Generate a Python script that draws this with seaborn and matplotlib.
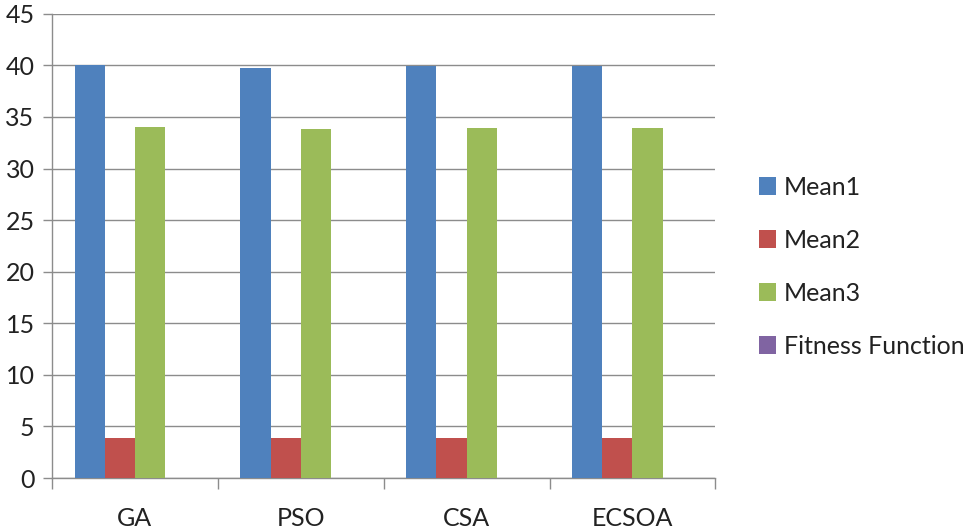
import matplotlib
matplotlib.use("Agg")
import matplotlib.pyplot as plt
import seaborn as sns
import pandas as pd
import numpy as np
from matplotlib.patches import Patch

categories = ["GA", "PSO", "CSA", "ECSOA"]
series_names = ["Mean1", "Mean2", "Mean3", "Fitness Function"]
mean1 = [40.0, 39.75, 39.95, 39.95]
mean2 = [3.9, 3.9, 3.9, 3.9]
mean3 = [34.0, 33.8, 33.9, 33.9]
fitness = [0.0, 0.0, 0.0, 0.0]
y_ticks = [0, 5, 10, 15, 20, 25, 30, 35, 40, 45]
colors = ["#4F81BD", "#C0504D", "#9BBB59", "#8064A2"]

df = pd.DataFrame({"Algorithm": categories, "Mean1": mean1, "Mean2": mean2,
                   "Mean3": mean3, "Fitness Function": fitness})
long = df.melt(id_vars="Algorithm", var_name="Series", value_name="Value")

sns.set_theme(style="white")
plt.rcParams["font.family"] = ["Lato", "DejaVu Sans"]

fig = plt.figure(figsize=(9.8, 5.3), dpi=100)
ax = fig.add_axes([0.053, 0.098, 0.677, 0.876])

sns.barplot(data=long, x="Algorithm", y="Value", hue="Series",
            order=categories, hue_order=series_names, palette=colors,
            width=4 / 5.5, gap=0, saturation=1, errorbar=None,
            edgecolor="none", linewidth=0, ax=ax, legend=False, zorder=3)

ax.set_ylim(0, 45)
ax.set_xlim(-0.5, len(categories) - 0.5)
ax.set_yticks(y_ticks)
ax.set_xlabel("")
ax.set_ylabel("")
ax.yaxis.grid(True, color="#8c8c8c", linewidth=1.0, zorder=0)
ax.set_axisbelow(True)

for s in ["top", "right"]:
    ax.spines[s].set_visible(False)
for s in ["left", "bottom"]:
    ax.spines[s].set_color("#8c8c8c")
    ax.spines[s].set_linewidth(1.0)

ax.tick_params(axis="y", which="major", length=6.5, width=1.0, color="#8c8c8c",
               labelsize=18, labelcolor="#222222", direction="out", left=True, pad=6)
ax.tick_params(axis="x", which="major", length=0, labelsize=18,
               labelcolor="#222222", pad=21)
ax.set_xticks(np.arange(-0.5, len(categories), 1.0), minor=True)
ax.tick_params(axis="x", which="minor", length=8, width=1.0, color="#8c8c8c",
               direction="out", bottom=True)

handles = [Patch(facecolor=c, edgecolor="none", label=n) for c, n in zip(colors, series_names)]
fig.legend(handles=handles, loc="upper left", bbox_to_anchor=(0.762, 0.692),
           frameon=False, fontsize=18, handlelength=0.68, handleheight=0.68,
           handletextpad=0.3, labelspacing=1.2, borderpad=0, labelcolor="#222222")

fig.savefig("out.png", dpi=100)
